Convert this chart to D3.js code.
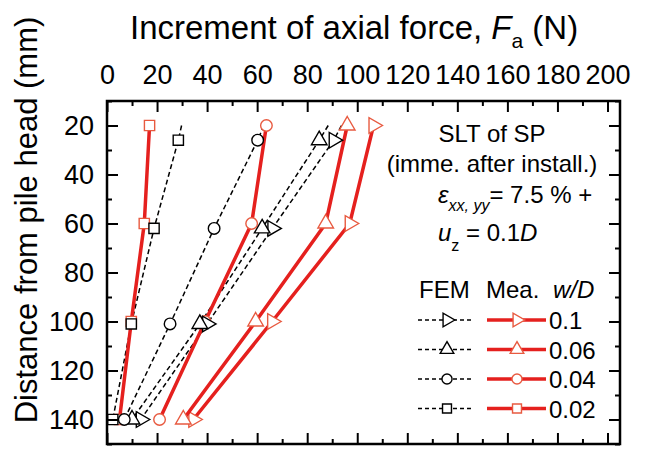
<!DOCTYPE html>
<html>
<head>
<meta charset="utf-8">
<script src="https://cdn.jsdelivr.net/npm/d3@7"></script>
<style>
  body { margin: 0; background: #fff; }
  text { font-family: "Liberation Sans", Arial, sans-serif; fill: #000; }
</style>
</head>
<body>
<script>
let width = 645;
let height = 450;

// w/D cases and their marker shapes
let ratios = ["0.1", "0.06", "0.04", "0.02"];
let shapes = ["right", "up", "circle", "square"];

// measured values (Mea.), depth in mm
let meaDepth = [20, 60, 100, 140];
let mea01  = [106.5, 97, 66, 34.5];
let mea006 = [96, 87.4, 59.4, 30.5];
let mea004 = [63.7, 57.8, 39.2, 21];
let mea002 = [17, 14.9, 9.7, 5];

// FEM values; the first depth has no marker
let femDepth = [20, 26, 62, 101, 140];
let fem01  = [93.7, 90.6, 66.1, 40.0, 13.5];
let fem006 = [88.4, 84.8, 62.0, 37.1, 10];
let fem004 = [62.7, 60.2, 42.8, 25.2, 6.9];
let fem002 = [29.8, 28.5, 18.8, 9.7, 2.3];

let xTicks = [0, 20, 40, 60, 80, 100, 120, 140, 160, 180, 200];
let xMinor = [10, 30, 50, 70, 90, 110, 130, 150, 170, 190];
let yTicks = [20, 40, 60, 80, 100, 120, 140];
let yMinor = [10, 30, 50, 70, 90, 110, 130, 150];

let red = "#e5201e";
let redMark = "#e85a40";

let mea = [mea01, mea006, mea004, mea002];
let fem = [fem01, fem006, fem004, fem002];

let x0 = 107, x1 = 620, y0 = 101, y1 = 444;

let x = d3.scaleLinear().domain([0, 205]).range([x0, x1]);
let y = d3.scaleLinear().domain([10, 150]).range([y0, y1]);

let svg = d3.select("body")
            .append("svg")
            .attr("width", width)
            .attr("height", height);

// marker path helper
function marker(sel, kind, size, color) {
  let type = kind == "circle" ? d3.symbolCircle : kind == "square" ? d3.symbolSquare : d3.symbolTriangle;
  sel.append("path")
     .attr("d", d3.symbol(type, size)())
     .attr("transform", function(d) {
       let t = "translate(" + d[0] + "," + d[1] + ")";
       return kind == "right" ? t + " rotate(90)" : t;
     })
     .attr("fill", "#fff")
     .attr("stroke", color)
     .attr("stroke-width", 1.4);
}

let plot = svg.append("g");

let line = d3.line();

// FEM dashed lines
fem.forEach(function(vals) {
  plot.append("path")
      .attr("d", line(vals.map(function(v, i) { return [x(v), y(femDepth[i])]; })))
      .attr("fill", "none")
      .attr("stroke", "#000")
      .attr("stroke-width", 1.5)
      .attr("stroke-dasharray", "5,3");
});

// measured lines + markers
mea.forEach(function(vals, k) {
  let pts = vals.map(function(v, i) { return [x(v), y(meaDepth[i])]; });
  plot.append("path")
      .attr("d", line(pts))
      .attr("fill", "none")
      .attr("stroke", red)
      .attr("stroke-width", 3.5);
  pts.forEach(function(p) {
    marker(plot.append("g").datum(p), shapes[k], 105, redMark);
  });
});

// FEM markers
fem.forEach(function(vals, k) {
  vals.forEach(function(v, i) {
    if (i == 0) return;
    marker(plot.append("g").datum([x(v), y(femDepth[i])]), shapes[k], 105, "#000");
  });
});

// axes with inward ticks on all four sides
function styleAxis(g) {
  g.select(".domain").remove();
  g.selectAll("line").attr("stroke", "#000").attr("stroke-width", 2);
  g.selectAll("text").attr("font-size", 27).attr("fill", "#000");
}

svg.append("g").attr("transform", "translate(0," + y0 + ")")
   .call(d3.axisTop(x).tickValues(xTicks).tickSize(-11).tickPadding(17))
   .call(styleAxis);
svg.append("g").attr("transform", "translate(0," + y0 + ")")
   .call(d3.axisTop(x).tickValues(xMinor).tickSize(-5).tickFormat(""))
   .call(styleAxis);
svg.append("g").attr("transform", "translate(0," + y1 + ")")
   .call(d3.axisBottom(x).tickValues(xTicks).tickSize(-11).tickFormat(""))
   .call(styleAxis);
svg.append("g").attr("transform", "translate(0," + y1 + ")")
   .call(d3.axisBottom(x).tickValues(xMinor).tickSize(-5).tickFormat(""))
   .call(styleAxis);

svg.append("g").attr("transform", "translate(" + x0 + ",0)")
   .call(d3.axisLeft(y).tickValues(yTicks).tickSize(-11).tickPadding(13))
   .call(styleAxis);
svg.append("g").attr("transform", "translate(" + x0 + ",0)")
   .call(d3.axisLeft(y).tickValues(yMinor).tickSize(-5).tickFormat(""))
   .call(styleAxis);
svg.append("g").attr("transform", "translate(" + x1 + ",0)")
   .call(d3.axisRight(y).tickValues(yTicks).tickSize(-11).tickFormat(""))
   .call(styleAxis);
svg.append("g").attr("transform", "translate(" + x1 + ",0)")
   .call(d3.axisRight(y).tickValues(yMinor).tickSize(-5).tickFormat(""))
   .call(styleAxis);

// frame
svg.append("rect")
   .attr("x", x0).attr("y", y0)
   .attr("width", x1 - x0).attr("height", y1 - y0)
   .attr("fill", "none")
   .attr("stroke", "#000")
   .attr("stroke-width", 2.5);

// axis titles
let xt = svg.append("text").attr("x", 130).attr("y", 39).attr("font-size", 33);
xt.append("tspan").text("Increment of axial force, ");
xt.append("tspan").attr("font-style", "italic").text("F");
xt.append("tspan").attr("font-size", 21).attr("dy", 9).text("a");
xt.append("tspan").attr("dy", -9).text(" (N)");

svg.append("text")
   .attr("transform", "translate(37,220) rotate(-90)")
   .attr("text-anchor", "middle")
   .attr("font-size", 31)
   .text("Distance from pile head (mm)");

// annotation
let note = svg.append("g").attr("font-size", 24);
note.append("text").attr("x", 492).attr("y", 142).attr("text-anchor", "middle").text("SLT of SP");
note.append("text").attr("x", 492).attr("y", 172).attr("text-anchor", "middle").text("(imme. after install.)");

let eps = note.append("text").attr("x", 438).attr("y", 203);
eps.append("tspan").attr("font-style", "italic").text("ε");
eps.append("tspan").attr("font-style", "italic").attr("font-size", 16).attr("dy", 8).text("xx, yy");
eps.append("tspan").attr("dy", -8).text("= 7.5 % +");

let uz = note.append("text").attr("x", 438).attr("y", 241);
uz.append("tspan").attr("font-style", "italic").text("u");
uz.append("tspan").attr("font-size", 16).attr("dy", 10).text("z");
uz.append("tspan").attr("dy", -10).text(" = 0.1");
uz.append("tspan").attr("font-style", "italic").text("D");

// legend
let leg = svg.append("g").attr("font-size", 24);
leg.append("text").attr("x", 419).attr("y", 298).text("FEM");
leg.append("text").attr("x", 486).attr("y", 298).text("Mea.");
leg.append("text").attr("x", 553).attr("y", 298).attr("font-style", "italic").text("w/D");

ratios.forEach(function(r, k) {
  let ry = 320 + k * 29.5;
  leg.append("line").attr("x1", 418).attr("x2", 474).attr("y1", ry).attr("y2", ry)
     .attr("stroke", "#000").attr("stroke-width", 1.3).attr("stroke-dasharray", "4,3");
  marker(leg.append("g").datum([447, ry]), shapes[k], 80, "#000");
  leg.append("line").attr("x1", 487).attr("x2", 546).attr("y1", ry).attr("y2", ry)
     .attr("stroke", red).attr("stroke-width", 3.5);
  marker(leg.append("g").datum([517, ry]), shapes[k], 80, redMark);
  leg.append("text").attr("x", 549).attr("y", ry + 9).text(r);
});
</script>
</body>
</html>
